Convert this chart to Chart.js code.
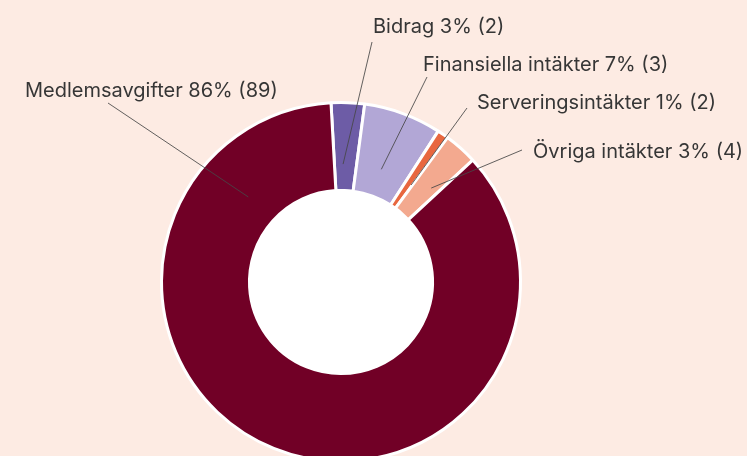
<!DOCTYPE html>
<html><head><meta charset="utf-8">
<script src="https://cdn.jsdelivr.net/npm/chart.js@4"></script>
<style>
html,body{margin:0;padding:0;background:#fdebe3;overflow:hidden}
#wrap{width:747px;height:470px;position:relative}
</style>
</head><body><div id="wrap"><canvas id="c" width="747" height="470"></canvas></div>
<script>
const categories = ['Bidrag', 'Finansiella intäkter', 'Serveringsintäkter', 'Övriga intäkter', 'Medlemsavgifter'];
const percentValues = [3, 7, 1, 3, 86];
const counts = [2, 3, 2, 4, 89];
const sliceColors = ['#6d5ca6', '#b2a7d6', '#e8673f', '#f3a98f', '#710026'];

// label layout: text left/baseline, leader-line start, anchor inside slice (angle fraction, radial fraction)
const labelText = [[373, 33], [423, 71], [477, 109], [533, 158], [25, 97]];
const lineStart = [[372, 42], [427, 77], [467, 108], [522, 150], [108, 103]];
const lineAnchor = [[0.39, 0.3], [0.48, 0.32], [0.85, 0.32], [0.69, 0.44], [0.857, 0.39]];

const labelsPlugin = {
  id: 'leaderLabels',
  beforeDatasetsDraw(chart) {
    const meta = chart.getDatasetMeta(0);
    const a = meta.data[0];
    const ctx = chart.ctx;
    ctx.save();
    ctx.fillStyle = '#ffffff';
    ctx.beginPath();
    ctx.arc(a.x, a.y, a.innerRadius, 0, Math.PI * 2);
    ctx.fill();
    ctx.restore();
  },
  afterDatasetsDraw(chart) {
    const meta = chart.getDatasetMeta(0);
    const ctx = chart.ctx;
    ctx.save();
    meta.data.forEach((arc, i) => {
      const [tf, rf] = lineAnchor[i];
      const ang = arc.startAngle + tf * (arc.endAngle - arc.startAngle);
      const r = arc.innerRadius + rf * (arc.outerRadius - arc.innerRadius);
      const ex = arc.x + r * Math.cos(ang);
      const ey = arc.y + r * Math.sin(ang);
      ctx.strokeStyle = 'rgba(70,70,70,0.85)';
      ctx.lineWidth = 1;
      ctx.beginPath();
      ctx.moveTo(lineStart[i][0], lineStart[i][1]);
      ctx.lineTo(ex, ey);
      ctx.stroke();
      ctx.fillStyle = '#363636';
      ctx.font = '20px Inter';
      ctx.textAlign = 'left';
      ctx.textBaseline = 'alphabetic';
      ctx.fillText(categories[i] + ' ' + percentValues[i] + '% (' + counts[i] + ')', labelText[i][0], labelText[i][1]);
    });
    ctx.restore();
  }
};

new Chart(document.getElementById('c'), {
  type: 'doughnut',
  data: {
    labels: categories,
    datasets: [{
      data: percentValues,
      backgroundColor: sliceColors,
      borderColor: '#ffffff',
      borderWidth: 3
    }]
  },
  options: {
    responsive: false,
    animation: false,
    rotation: -3.2,
    cutout: '51%',
    layout: { padding: { left: 160, right: 225, top: 101, bottom: 7 } },
    plugins: { legend: { display: false }, tooltip: { enabled: false } },
    events: []
  },
  plugins: [labelsPlugin]
});
</script>
</body></html>
